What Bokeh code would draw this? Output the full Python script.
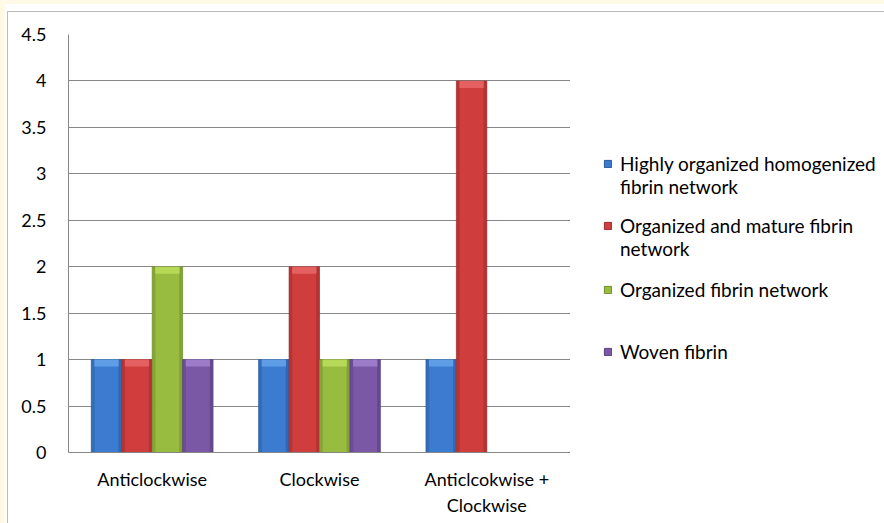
import numpy as np
from bokeh.plotting import figure
from bokeh.models import (Legend, LegendItem, ColumnDataSource, FactorRange, Range1d,
                          FixedTicker, NumeralTickFormatter)
from bokeh.transform import dodge
from bokeh.layouts import column, row
from bokeh.embed import file_html
from bokeh.resources import INLINE

# ---------------- data ----------------
categories = ["Anticlockwise", "Clockwise", "Anticlcokwise +\nClockwise"]
series_names = [["Highly organized homogenized", "fibrin network"],
                ["Organized and mature fibrin", "network"],
                ["Organized fibrin network"],
                ["Woven fibrin"]]
highly_organized = [1, 1, 1]
organized_mature = [1, 2, 4]
organized_fibrin = [2, 1, 0]
woven_fibrin = [1, 1, 0]
y_ticks = [0, 0.5, 1, 1.5, 2, 2.5, 3, 3.5, 4, 4.5]

series = [highly_organized, organized_mature, organized_fibrin, woven_fibrin]
# base, light, dark
palette = [("#3b7bd0", "#6aa6ec", "#2a5a9a"),
           ("#d03d3d", "#ea6a6a", "#9c2b2b"),
           ("#97bc40", "#bfe05e", "#6f8c2c"),
           ("#7a58a6", "#a585d2", "#56407f")]

FONT = "Lato"
GRID = "#878787"
H = 511

p = figure(x_range=FactorRange(*categories), y_range=Range1d(0, 4.5),
           width=562, height=H, output_backend="svg", toolbar_location=None,
           min_border_left=60, min_border_top=22, min_border_bottom=71,
           min_border_right=0)
p.background_fill_color = "white"
p.border_fill_color = "white"
p.outline_line_color = None

src = ColumnDataSource(dict(cat=categories,
                            s0=highly_organized, s1=organized_mature,
                            s2=organized_fibrin, s3=woven_fibrin))
bw = 0.182
offsets = [-1.5 * bw, -0.5 * bw, 0.5 * bw, 1.5 * bw]
cap = 0.075
side = 0.02

for i, (vals, (base, light, dark)) in enumerate(zip(series, palette)):
    vals = np.array(vals, dtype=float)
    p.vbar(x=dodge("cat", offsets[i], range=p.x_range), top="s%d" % i, width=bw,
           source=src, fill_color=base, line_color=dark, line_width=0.6)
    # bevel: darker sides, lighter top cap
    p.vbar(x=dodge("cat", offsets[i] - bw / 2 + side / 2, range=p.x_range), top="s%d" % i,
           width=side, source=src, fill_color=dark, fill_alpha=0.45, line_color=None)
    p.vbar(x=dodge("cat", offsets[i] + bw / 2 - side / 2, range=p.x_range), top="s%d" % i,
           width=side, source=src, fill_color=dark, fill_alpha=0.55, line_color=None)
    capsrc = ColumnDataSource(dict(cat=categories, top=vals,
                                   bottom=np.maximum(vals - cap, 0)))
    p.vbar(x=dodge("cat", offsets[i], range=p.x_range), top="top", bottom="bottom",
           width=bw * 0.8, source=capsrc, fill_color=light, fill_alpha=0.8, line_color=None)

# axes & grid
p.xgrid.grid_line_color = None
p.ygrid.grid_line_color = GRID
p.ygrid.grid_line_width = 1
p.ygrid.ticker = FixedTicker(ticks=y_ticks)

p.yaxis.ticker = FixedTicker(ticks=y_ticks)
p.yaxis.formatter = NumeralTickFormatter(format="0.[0]")
for ax in (p.xaxis, p.yaxis):
    ax.axis_line_color = GRID
    ax.major_tick_line_color = None
    ax.minor_tick_line_color = None
    ax.major_label_text_font = FONT
    ax.major_label_text_font_size = "18px"
    ax.major_label_text_color = "#000000"
p.yaxis.major_label_standoff = 16
p.xaxis.major_label_standoff = 9
p.xaxis.major_label_text_line_height = 1.2

# ---------------- legend panel ----------------
lp = figure(x_range=Range1d(0, 1), y_range=Range1d(0, 1), width=314, height=H,
            output_backend="svg", toolbar_location=None,
            min_border_left=0, min_border_right=0, min_border_top=0, min_border_bottom=0)
lp.axis.visible = False
lp.grid.visible = False
lp.outline_line_color = None
lp.background_fill_color = "white"
lp.border_fill_color = "white"

# legend key renderers: a single zero-size bar placed outside the visible range
blank = lp.vbar(x=[5], top=[0], width=0, fill_alpha=0, line_alpha=0)
legend_bottoms = [254, 192, 151, 89]   # screen offsets within the panel
for lines, (base, light, dark), yb in zip(series_names, palette, legend_bottoms):
    key = lp.vbar(x=[5], top=[0], width=0, fill_color=base, line_color=dark)
    items = [LegendItem(label=lines[0], renderers=[key])]
    items += [LegendItem(label=t, renderers=[blank]) for t in lines[1:]]
    lg = Legend(items=items, location=(33, yb), border_line_color=None,
                background_fill_alpha=0, padding=0, margin=0, glyph_width=9,
                glyph_height=9, label_standoff=8, spacing=0, label_height=20,
                label_text_font=FONT, label_text_font_size="19px",
                label_text_line_height=1.05, label_text_color="#000000")
    lp.add_layout(lg)

chart = row(p, lp)
chart.margin = (11, 0, 0, 7)
chart.styles = {"border-left": "1px solid #bdbdbd", "border-top": "1px solid #bdbdbd",
                "background": "white"}

bg = ("linear-gradient(#fff9e6,#fff9e6) top left / 100% 4px no-repeat, "
      "linear-gradient(#fff9e6,#fff9e6) top left / 5px 100% no-repeat, white")
layout = column(chart, width=884, height=523, styles={"background": bg})

open("out.html", "w").write(file_html(layout, INLINE))
